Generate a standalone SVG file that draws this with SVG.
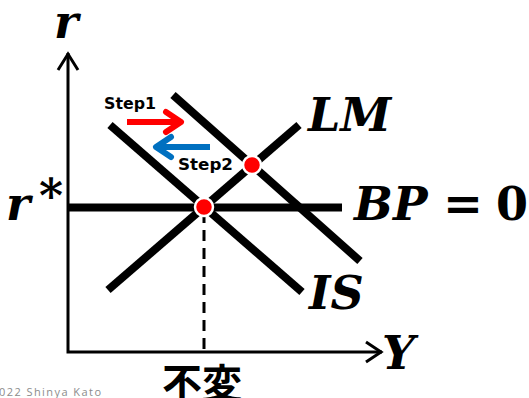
<svg xmlns="http://www.w3.org/2000/svg" width="529" height="398" viewBox="0 0 529 398">
<defs>
<style>
.ax{stroke:#000;stroke-width:3;fill:none;stroke-linecap:butt}
.cur{stroke:#000;stroke-width:8;fill:none}
.m{font-family:"DejaVu Serif",serif;font-weight:bold;font-style:italic;font-size:46px;fill:#000}
.mu{font-family:"DejaVu Serif",serif;font-weight:bold;font-size:46px;fill:#000}
.st{font-family:"DejaVu Sans",sans-serif;font-weight:bold;font-size:16px;fill:#000}
.dot{fill:#ff0000;stroke:#fff;stroke-width:2.5}
</style>
</defs>
<g id="connectors">
<path class="ax" d="M68,53 V352 H382"/>
<path class="ax" d="M58,70 L68,54 L78,70"/>
<path class="ax" d="M366,342 L381,352 L366,362"/>
<line class="ax" x1="204" y1="212" x2="204" y2="352" stroke-dasharray="11,7"/>
<line id="bp" class="cur" x1="68" y1="207.5" x2="342" y2="207.5"/>
<line id="lm" class="cur" x1="108" y1="290" x2="299" y2="125"/>
<line id="is" class="cur" x1="110" y1="125" x2="302" y2="292"/>
<line id="is2" class="cur" x1="173" y1="95" x2="360" y2="261"/>
<g id="step1-arrow" stroke="#ff0000" stroke-width="6" fill="none" stroke-linecap="round" stroke-linejoin="round">
<line x1="127" y1="122" x2="180" y2="122" stroke-linecap="butt"/>
<path d="M166,112 L181,122 L166,132"/>
</g>
<g id="step2-arrow" stroke="#0070c0" stroke-width="6" fill="none" stroke-linecap="round" stroke-linejoin="round">
<line x1="210" y1="147" x2="157" y2="147" stroke-linecap="butt"/>
<path d="M171,137 L156,147 L171,157"/>
</g>
</g>
<g id="point-e0"><circle class="dot" cx="204" cy="207" r="9"/></g>
<g id="point-e1"><circle class="dot" cx="252" cy="165" r="9"/></g>
<g id="label-r"><text class="m" x="54" y="38">r</text></g>
<g id="label-rstar"><text class="m" x="6" y="220">r</text><text class="mu" x="39" y="212" font-size="30px">*</text></g>
<g id="label-lm"><text class="m" x="308" y="131">LM</text></g>
<g id="label-bp"><text class="m" x="354" y="220">BP</text><text class="mu" x="443" y="220" textLength="40" lengthAdjust="spacingAndGlyphs">=</text><text class="mu" x="496" y="220">0</text></g>
<g id="label-is"><text class="m" x="309" y="309">IS</text></g>
<g id="label-y"><text class="m" x="382" y="369">Y</text></g>
<g id="label-step1"><text class="st" x="104" y="109" textLength="52" lengthAdjust="spacingAndGlyphs">Step1</text></g>
<g id="label-step2"><text class="st" x="178" y="170" textLength="55" lengthAdjust="spacingAndGlyphs">Step2</text></g>
<g id="label-fuhen"><text x="162" y="398" font-family="Noto Sans CJK JP,sans-serif" font-weight="bold" font-size="40px" fill="#000">不変</text></g>
<g id="copyright"><text x="-1" y="396" font-family="Open Sans,sans-serif" font-size="11px" fill="#8c8c8c" textLength="102">022 Shinya Kato</text></g>
</svg>
